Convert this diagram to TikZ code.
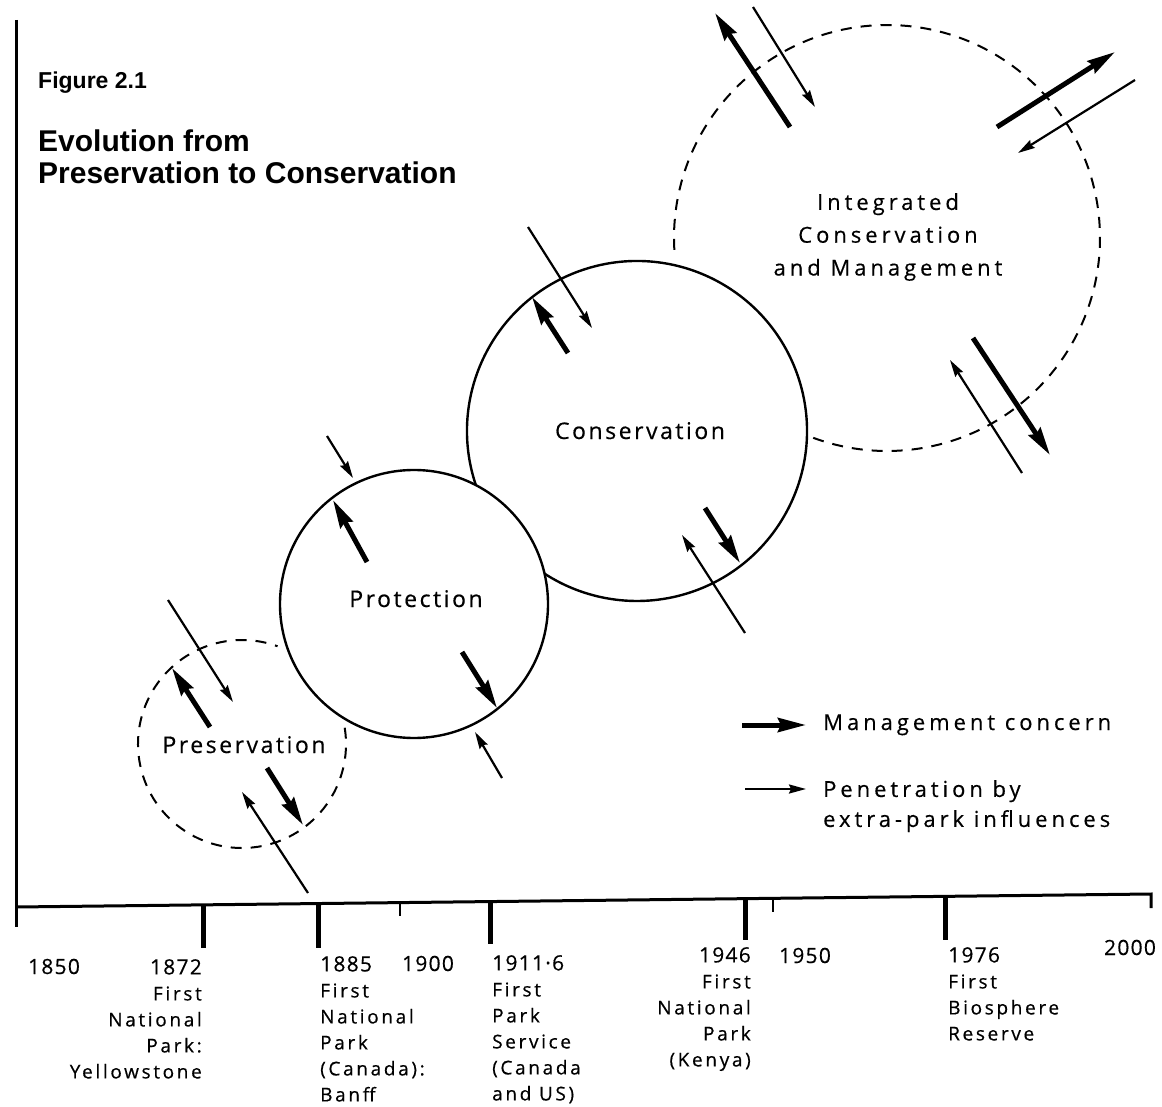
\documentclass[tikz,border=0pt]{standalone}
\usepackage{fontspec}
\usetikzlibrary{arrows.meta}
\newfontfamily\titlefont{Liberation Sans}
\newfontfamily\lblfont[LetterSpace=11,FakeBold=0.4]{Open Sans}
\newfontfamily\widefont[LetterSpace=18,FakeBold=0.4]{Open Sans}
\newfontfamily\axfont[LetterSpace=14,FakeBold=0.5]{Open Sans}
\newfontfamily\yrfont[LetterSpace=6,FakeBold=0.4]{Open Sans}
\newcommand\yr[1]{{\yrfont\fontsize{21}{26}\selectfont #1}}
\begin{document}
\begin{tikzpicture}[x=1pt,y=-1pt,
  mgmt/.style={line width=5pt,-{Stealth[length=28pt,width=14pt,inset=3pt]}},
  pen/.style={line width=2.2pt,-{Stealth[length=17pt,width=9pt,inset=2pt]}},
  solidring/.style={line width=2.4pt},
  dashring/.style={line width=2pt,dash pattern=on 11pt off 9pt},
  axisline/.style={line width=3pt},
  majortick/.style={line width=5pt},
  minortick/.style={line width=2.5pt},
  ringlbl/.style={font=\lblfont\fontsize{23}{23}\selectfont,inner sep=0pt},
  widelbl/.style={font=\widefont\fontsize{22}{32.8}\selectfont,inner sep=0pt},
  axlbl/.style={font=\axfont\fontsize{19}{26}\selectfont,inner sep=0pt},
  yrlbl/.style={font=\yrfont\fontsize{21}{26}\selectfont,inner sep=0pt,anchor=base}]

\fill[white] (0,0) rectangle (1162,1107);

% title
\node[anchor=base west,inner sep=0pt,font=\titlefont\bfseries\fontsize{23}{23}\selectfont] (fig) at (38,88.3) {Figure 2.1};
\node[anchor=base west,inner sep=0pt,font=\titlefont\bfseries\fontsize{30}{30}\selectfont] (ttl1) at (38,151.7) {Evolution from};
\node[anchor=base west,inner sep=0pt,font=\titlefont\bfseries\fontsize{30}{30}\selectfont] (ttl2) at (38,183.3) {Preservation to Conservation};

% rings
\draw[dashring] (242,744) ++(-9:104) arc[start angle=-9,end angle=290,radius=104];
\draw[solidring] (414,604) circle[radius=134];
\draw[solidring] (637,431) ++(161.4:170) arc[start angle=161.4,end angle=483,radius=170];
\draw[dashring] (887,238) ++(176.8:213) arc[start angle=176.8,end angle=470.4,radius=213];

\node[ringlbl,anchor=base] (pres) at (244,753) {Preservation};
\node[ringlbl,anchor=base] (prot) at (416,607) {Protection};
\node[ringlbl,anchor=base] (cons) at (640,439) {Conservation};
\node[widelbl,align=center,anchor=north] (icm) at (888,193) {Integrated\\Conservation\\and Management};

% management concern arrows (outward)
\foreach \ax/\ay/\bx/\by in {210/727/172/668, 267/768/303/825, 367/562/333/500,
    462/652/497/708, 568/353/532/297, 705/508/740/563, 790/127/715/13,
    997/127/1115/52, 973/338/1050/455}
  \draw[mgmt] (\ax,\ay) -- (\bx,\by);

% extra-park influences (inward)
\foreach \ax/\ay/\bx/\by in {168/600/233/702, 308/893/242/792, 327/436/353/478,
    502/778/475/732, 528/227/592/328, 745/633/682/535, 753/7/815/107,
    1135/80/1018/153, 1022/473/950/360}
  \draw[pen] (\ax,\ay) -- (\bx,\by);

% legend
\coordinate (lg1a) at (742,725); \coordinate (lg1b) at (806,725);
\coordinate (lg2a) at (745,789); \coordinate (lg2b) at (806,789);
\draw[mgmt] (lg1a) -- (lg1b);
\draw[pen] (lg2a) -- (lg2b);
\node[widelbl,anchor=base west] (lgt1) at (823,730) {Management concern};
\node[widelbl,font=\widefont\fontsize{22}{30}\selectfont,align=left,anchor=north west] (lgt2) at (823,780) {Penetration by\\extra-park influences};

% axes
\draw[axisline] (16,20) -- (16,927);
\draw[axisline] (16,907) -- (1151,894) -- (1151,908);
\draw[majortick] (203,904.9) -- (203,948);
\draw[majortick] (318,903.5) -- (318,948);
\draw[minortick] (400,902.6) -- (400,916);
\draw[majortick] (490,901.6) -- (490,944);
\draw[majortick] (745,898.7) -- (745,940);
\draw[minortick] (773,898.3) -- (773,912);
\draw[majortick] (945,896.4) -- (945,940);

% dates
\node[yrlbl] (d1850) at (54,974) {1850};
\node[yrlbl] (d1900) at (428,971) {1900};
\node[yrlbl] (d1950) at (805,963) {1950};
\node[yrlbl] (d2000) at (1130,955) {2000};
\node[axlbl,align=right,anchor=north east] (d1872) at (202,959) {\yr{1872}\\First\\National\\Park:\\Yellowstone};
\node[axlbl,align=left,anchor=north west] (d1885) at (320,956) {\yr{1885}\\First\\National\\Park\\(Canada):\\Banff};
\node[axlbl,align=left,anchor=north west] (d1911) at (492,955) {\yr{1911·6}\\First\\Park\\Service\\(Canada\\and US)};
\node[axlbl,align=right,anchor=north east] (d1946) at (751,947) {\yr{1946}\\First\\National\\Park\\(Kenya)};
\node[axlbl,align=left,anchor=north west] (d1976) at (948,947) {\yr{1976}\\First\\Biosphere\\Reserve};
\end{tikzpicture}
\end{document}
